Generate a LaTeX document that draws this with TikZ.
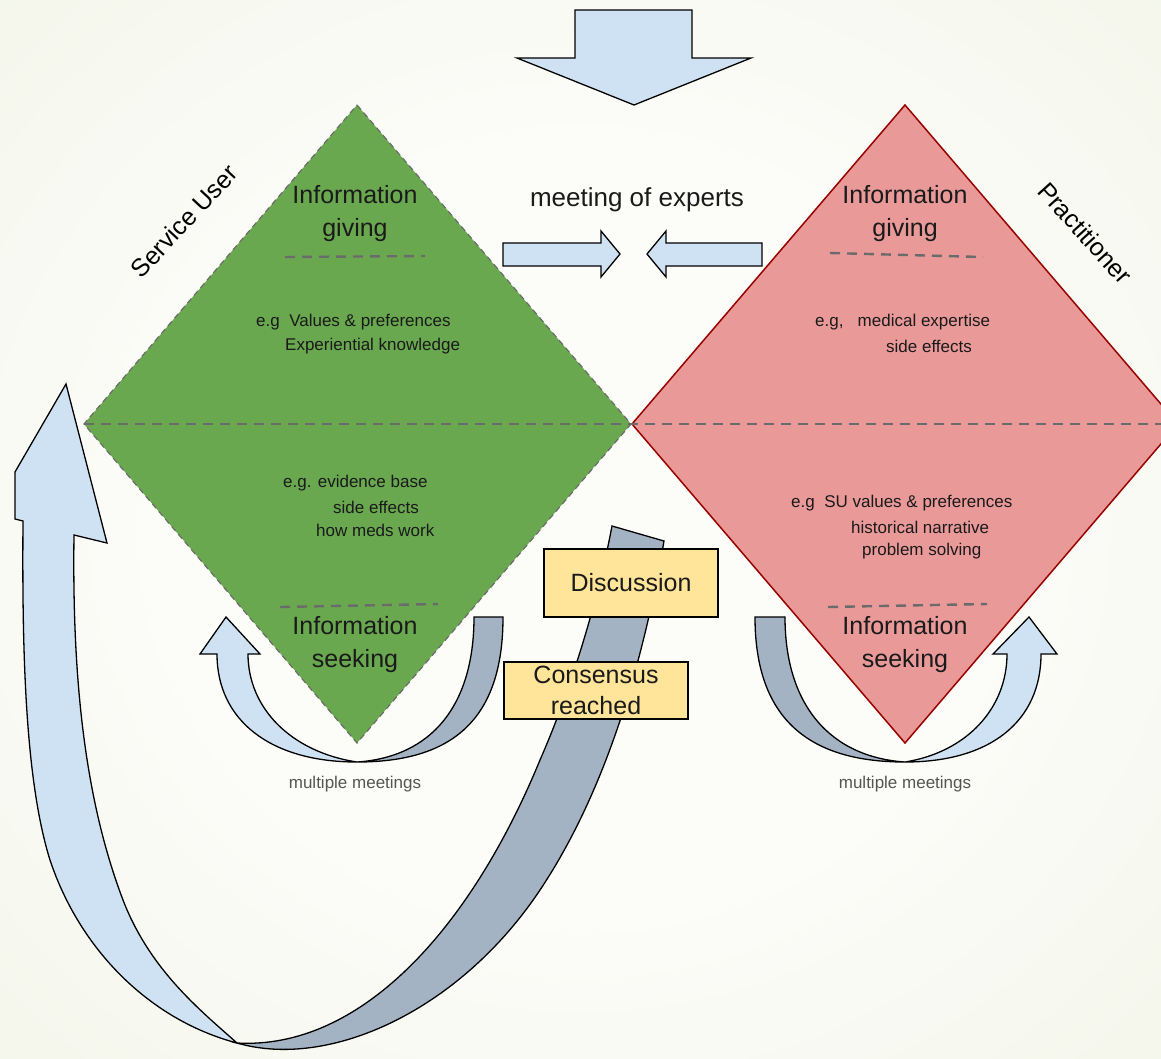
\documentclass[tikz,border=0pt]{standalone}
\usepackage{fontspec}
\setmainfont{Liberation Sans}
\definecolor{bgin}{RGB}{252,252,249}
\definecolor{bgmid}{RGB}{238,242,224}
\definecolor{bgout}{RGB}{227,234,205}
\definecolor{sugreen}{HTML}{6AA84F}
\definecolor{prred}{HTML}{EA9999}
\definecolor{prline}{HTML}{990000}
\definecolor{lblue}{HTML}{CFE2F3}
\definecolor{gband}{HTML}{A3B3C4}
\definecolor{ybox}{HTML}{FFE599}
\definecolor{dashgray}{HTML}{6B6B6B}
\definecolor{txt}{HTML}{1A1A1A}
\definecolor{mmgray}{HTML}{555555}
\pgfdeclareradialshading{bgshade}{\pgfpoint{0bp}{0bp}}{color(0bp)=(bgin); color(18bp)=(bgin); color(50bp)=(bgmid); color(72bp)=(bgout)}
\begin{document}
\begin{tikzpicture}[x=1pt,y=-1pt,
  shapeline/.style={draw=black,line width=1.3pt,line join=miter},
  bluefill/.style={shapeline,fill=lblue},
  greyfill/.style={shapeline,fill=gband},
  sepline/.style={dashgray,line width=2.4pt,dash pattern=on 10pt off 7pt},
  heading/.style={font=\fontsize{25}{33}\selectfont,text=txt,align=center,inner sep=0pt},
  small/.style={font=\fontsize{17}{20}\selectfont,text=txt,inner sep=0pt,anchor=west},
  mm/.style={font=\fontsize{17}{20}\selectfont,text=mmgray,inner sep=0pt},
  side/.style={font=\fontsize{25}{30}\selectfont,text=black,inner sep=0pt},
  boxnode/.style={draw=black,line width=1.3pt,fill=ybox,font=\fontsize{25}{31}\selectfont,text=txt,align=center,inner sep=0pt}
]
\useasboundingbox (0,0) rectangle (1161,1058);
\clip (0,0) rectangle (1161,1058);
\shade[shading=bgshade] (0,0) rectangle (1161,1058);

% diamonds
\fill[sugreen] (357,105) -- (631,424) -- (357,743) -- (84,424) -- cycle;
\draw[dashgray,line width=1.2pt,dash pattern=on 6pt off 4pt] (357,105) -- (631,424) -- (357,743) -- (84,424) -- cycle;
\draw[prline,fill=prred,line width=1.5pt] (905,105) -- (1178,424) -- (905,743) -- (632,424) -- cycle;
\draw[sepline] (84,424) -- (1161,424);
\draw[sepline] (285,257) -- (425,256);
\draw[sepline] (280,607) -- (438,604);
\draw[sepline] (830,253) -- (983,257);
\draw[sepline] (828,607) -- (987,604);

% top arrow and meeting arrows
\draw[bluefill] (575,10) -- (692,10) -- (692,58) -- (751,58) -- (634,105) -- (517,58) -- (575,58) -- cycle;
\draw[bluefill] (503,243) -- (601,243) -- (601,231) -- (620,254) -- (601,277) -- (601,266) -- (503,266) -- cycle;
\draw[bluefill] (762,243) -- (666,243) -- (666,231) -- (647,254) -- (666,277) -- (666,266) -- (762,266) -- cycle;

% U-turn arrows (multiple meetings)
\begin{scope}[shift={(357,0)}]
  \draw[greyfill] (146,617) .. controls (146,720) and (95,762) .. (0,762)
     .. controls (75,757) and (117,705) .. (117,617) -- cycle;
  \draw[bluefill] (0,762) .. controls (-87,762) and (-140,720) .. (-140,654)
     -- (-157,654) -- (-131,617) -- (-97,654) -- (-109,654)
     .. controls (-109,708) and (-66,752) .. (0,762) -- cycle;
\end{scope}
\begin{scope}[shift={(905,0)},xscale=-1]
  \draw[greyfill] (150,617) .. controls (150,720) and (95,762) .. (0,762)
     .. controls (75,757) and (120,705) .. (120,617) -- cycle;
  \draw[bluefill] (0,762) .. controls (-87,762) and (-136,720) .. (-136,654)
     -- (-152,654) -- (-124,617) -- (-88,654) -- (-102,654)
     .. controls (-102,708) and (-62,752) .. (0,762) -- cycle;
\end{scope}

% big return arrow
\draw[bluefill] (237,1043) .. controls (150,1020) and (80,950) .. (50,860)
   .. controls (25,780) and (22,650) .. (23,521)
   -- (15,519) -- (15,472) -- (66,384) -- (107,543) -- (74,535)
   .. controls (72,680) and (85,800) .. (123,900)
   .. controls (150,970) and (200,1010) .. (237,1043) -- cycle;
\draw[greyfill] (237,1043) .. controls (360,1050) and (470,930) .. (540,760)
   .. controls (575,680) and (600,590) .. (612,526)
   -- (664,541)
   .. controls (640,680) and (600,800) .. (540,890)
   .. controls (460,1010) and (330,1070) .. (237,1043) -- cycle;

% boxes
\node[boxnode,minimum width=174pt,minimum height=68pt] (disc) at (631,583) {Discussion};
\node[boxnode,minimum width=184pt,minimum height=57pt] (cons) at (596,690.5) {Consensus\\reached};

% texts
\node[heading] (giveSU) at (355,214) {Information\\giving};
\node[heading] (seekSU) at (355,645) {Information\\seeking};
\node[heading] (givePR) at (905,214) {Information\\giving};
\node[heading] (seekPR) at (905,645) {Information\\seeking};
\node[font=\fontsize{26}{30}\selectfont,text=txt,inner sep=0pt] (meet) at (637,200) {meeting of experts};
\node[side,rotate=47] (su) at (184,221) {Service User};
\node[side,rotate=-48] (pr) at (1085,233) {Practitioner};

\node[small] (a1) at (256,322) {e.g\ \ Values \& preferences};
\node[small] (a2) at (285,346) {Experiential knowledge};
\node[small] (b1) at (283,483) {e.g. evidence base};
\node[small] (b2) at (333,507) {side effects};
\node[small] (b3) at (316,530) {how meds work};
\node[small] (c1) at (815,322) {e.g,\ \ \ medical expertise};
\node[small] (c2) at (886,346) {side effects};
\node[small] (d1) at (791,503) {e.g\ \ SU values \& preferences};
\node[small] (d2) at (851,527) {historical narrative};
\node[small] (d3) at (862,551) {problem solving};
\node[mm] (mm1) at (355,784) {multiple meetings};
\node[mm] (mm2) at (905,784) {multiple meetings};
\end{tikzpicture}
\end{document}
